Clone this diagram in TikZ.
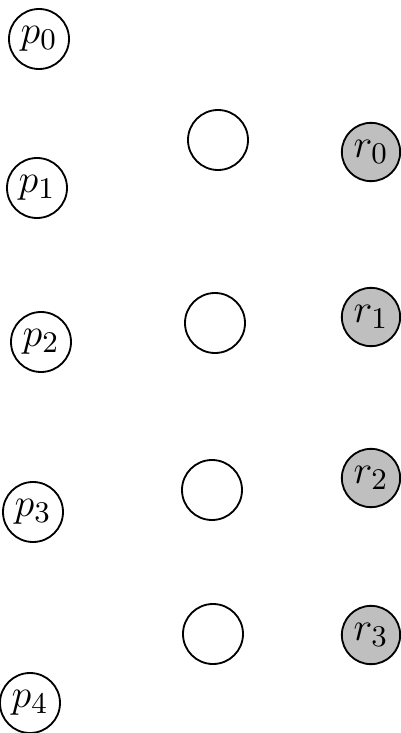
\documentclass[tikz,border=0pt]{standalone}
\begin{document}
\begin{tikzpicture}[x=0.3pt,y=-0.3pt,
  pnode/.style={circle,draw,line width=0.55pt,minimum size=18pt,inner sep=0pt,font=\fontsize{13}{15}\selectfont},
  mnode/.style={circle,draw,line width=0.55pt,minimum size=18pt,inner sep=0pt},
  rnode/.style={circle,draw,line width=0.55pt,fill=black!25,minimum size=17.5pt,inner sep=0pt,font=\fontsize{13}{15}\selectfont}]
\useasboundingbox (0,0) rectangle (401,733);
\node[pnode] (p0) at (39,39) {$p_0$};
\node[pnode] (p1) at (37,188) {$p_1$};
\node[pnode] (p2) at (41,342) {$p_2$};
\node[pnode] (p3) at (33,512) {$p_3$};
\node[pnode] (p4) at (30,703) {$p_4$};
\node[mnode] (m0) at (218,140) {};
\node[mnode] (m1) at (215,323) {};
\node[mnode] (m2) at (212,490) {};
\node[mnode] (m3) at (213,634) {};
\node[rnode] (r0) at (371,152) {$r_0$};
\node[rnode] (r1) at (371,317) {$r_1$};
\node[rnode] (r2) at (371,478) {$r_2$};
\node[rnode] (r3) at (371,635) {$r_3$};
\end{tikzpicture}
\end{document}
